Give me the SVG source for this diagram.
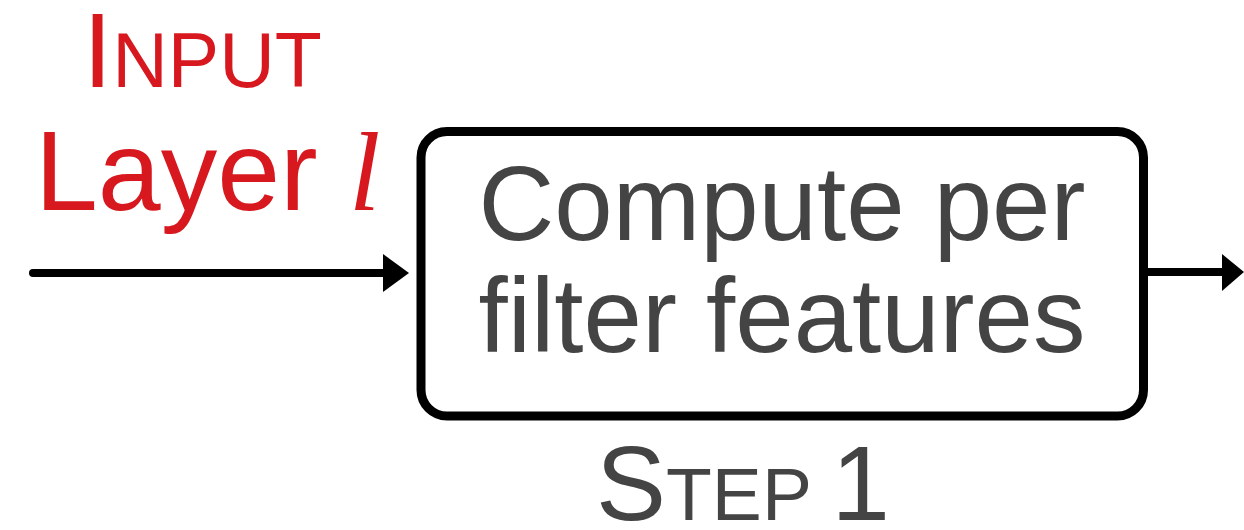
<svg xmlns="http://www.w3.org/2000/svg" width="1244" height="530" viewBox="0 0 1244 530">
<style>
.sans{font-family:"Liberation Sans",Arial,sans-serif}
.red{fill:#D7191F}
.gray{fill:#444444}
.box{fill:#ffffff;stroke:#000;stroke-width:9}
.conn{stroke:#000;stroke-width:8;stroke-linecap:round;fill:none}
.head{fill:#000}
</style>
<rect width="1244" height="530" fill="#ffffff"/>
<g id="input-label">
<text class="sans red" x="83" y="87" font-size="105">I<tspan font-size="77">NPUT</tspan></text>
<text class="sans red" x="35" y="210" font-size="113">Layer <tspan font-family="'Liberation Serif','Times New Roman',serif" font-style="italic">l</tspan></text>
</g>
<g id="step1">
<rect class="box" x="421" y="131.5" width="722.5" height="284.5" rx="26"/>
<text class="sans gray" x="782" y="240" font-size="105" text-anchor="middle">Compute per</text>
<text class="sans gray" x="782" y="352" font-size="105" text-anchor="middle">filter features</text>
</g>
<g id="step1-label">
<text class="sans gray" x="596" y="520" font-size="105">S<tspan font-size="75">TEP </tspan>1</text>
</g>
<g id="connectors">
<line class="conn" x1="33" y1="273" x2="386" y2="273"/>
<polygon class="head" points="383,254 409,273 383,292"/>
<line class="conn" x1="1147" y1="272" x2="1224" y2="272" style="stroke-linecap:butt"/>
<polygon class="head" points="1222,254 1244,272 1222,291"/>
</g>
</svg>
